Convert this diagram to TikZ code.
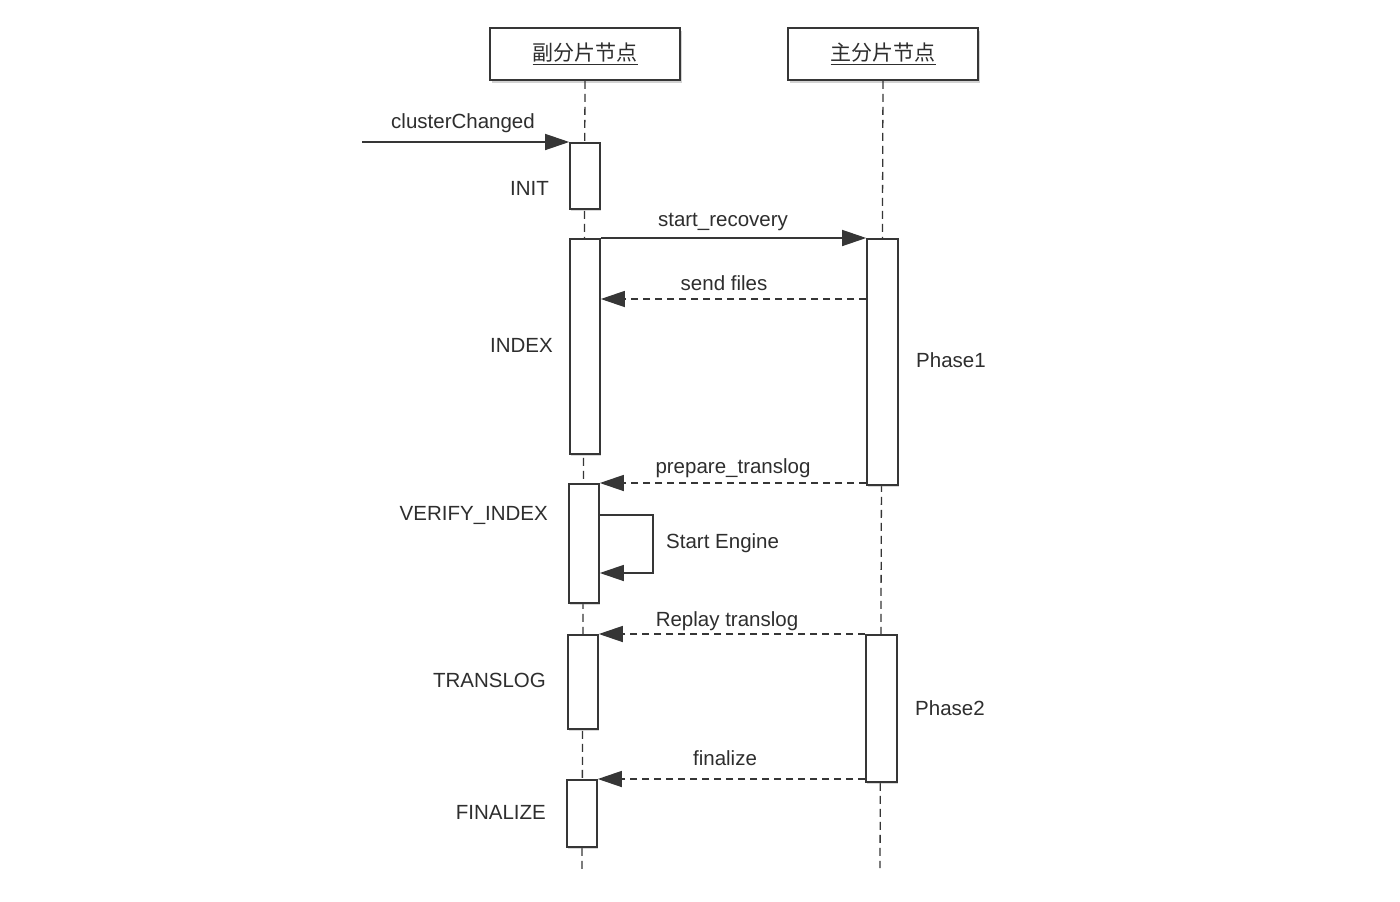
\documentclass[tikz,border=0pt]{standalone}
\usepackage{fontspec}
\setmainfont{Liberation Sans}
\newfontfamily\cjk{Noto Sans CJK SC}
\usetikzlibrary{arrows.meta,shadows,calc}
\definecolor{linecol}{HTML}{363636}
\definecolor{textcol}{HTML}{2E2E2E}
\begin{document}
\begin{tikzpicture}[x=1pt,y=-1pt,
  hdr/.style={draw=linecol, line width=1.6pt, fill=white, minimum width=190pt, minimum height=52pt, inner sep=0pt,
    drop shadow={shadow xshift=1.5pt,shadow yshift=-2.5pt,opacity=.35},
    font=\cjk\fontsize{21}{24}\selectfont, text=textcol},
  act/.style={draw=linecol, line width=1.6pt, fill=white, minimum width=30pt, inner sep=0pt, anchor=north,
    drop shadow={shadow xshift=1.2pt,shadow yshift=-1.8pt,opacity=.3}},
  life/.style={line width=1.3pt, draw=linecol, dash pattern=on 8pt off 5pt},
  msg/.style={line width=1.4pt, draw=linecol, -{Triangle[length=24pt,width=16pt]}},
  reply/.style={msg, dash pattern=on 7pt off 5pt},
  lbl/.style={font=\fontsize{20.5}{24}\selectfont, text=textcol, inner sep=0pt}
]
\useasboundingbox (0,0) rectangle (1400,902);
\fill[white] (0,0) rectangle (1400,902);

% headers
\node[hdr] (rep) at (585,54) {\underline{副分片节点}};
\node[hdr] (pri) at (883,54) {\underline{主分片节点}};

% lifelines
\coordinate (repend) at (582,870);
\coordinate (priend) at (880,868);
\draw[life] (rep.south) -- (repend);
\draw[life] (pri.south) -- (priend);

% activations
\node[act, minimum height=66pt]  (init)   at (585,142) {};
\node[act, minimum height=215pt] (index)  at (585,238) {};
\node[act, minimum height=119pt] (verify) at (584,483) {};
\node[act, minimum height=94pt]  (trans)  at (583,634) {};
\node[act, minimum height=67pt]  (fin)    at (582,779) {};
\node[act, minimum height=246pt, minimum width=31pt] (ph1) at (882.5,238) {};
\node[act, minimum height=147pt, minimum width=31pt] (ph2) at (881.5,634) {};

% state labels
\node[lbl, anchor=east] (linit)  at (549,188) {INIT};
\node[lbl, anchor=east] (lindex) at (553,345) {INDEX};
\node[lbl, anchor=east] (lver)   at (548,515) {VERIFY\_INDEX};
\node[lbl, anchor=east] (ltr)    at (546,680) {TRANSLOG};
\node[lbl, anchor=east] (lfin)   at (546,812) {FINALIZE};
\node[lbl, anchor=west] (lph1)   at (916,360) {Phase1};
\node[lbl, anchor=west] (lph2)   at (915,708) {Phase2};

% messages
\coordinate (cc) at (362,142);
\draw[msg] (cc) -- (init.north west);
\node[lbl] at (463,123) {clusterChanged};

\draw[msg] (index.north east) -- (ph1.north west);
\node[lbl] at (723,222) {start\_recovery};

\coordinate (sf) at (0,299);
\draw[reply] (ph1.west |- sf) -- (index.east |- sf);
\node[lbl] at (724,283) {send files};

\draw[reply] (ph1.west |- verify.north) -- (verify.north east);
\node[lbl] at (733,468) {prepare\_translog};

\coordinate (se1) at (653,515);
\coordinate (se2) at (653,573);
\draw[msg] (verify.east |- se1) -- (se1) -- (se2) -- (verify.east |- se2);
\node[lbl, anchor=west] at (666,543) {Start Engine};

\draw[reply] (ph2.north west) -- (trans.north east);
\node[lbl] at (727,621) {Replay translog};

\coordinate (fz) at (0,779);
\draw[reply] (ph2.west |- fz) -- (fin.north east);
\node[lbl] at (725,758) {finalize};
\end{tikzpicture}
\end{document}
